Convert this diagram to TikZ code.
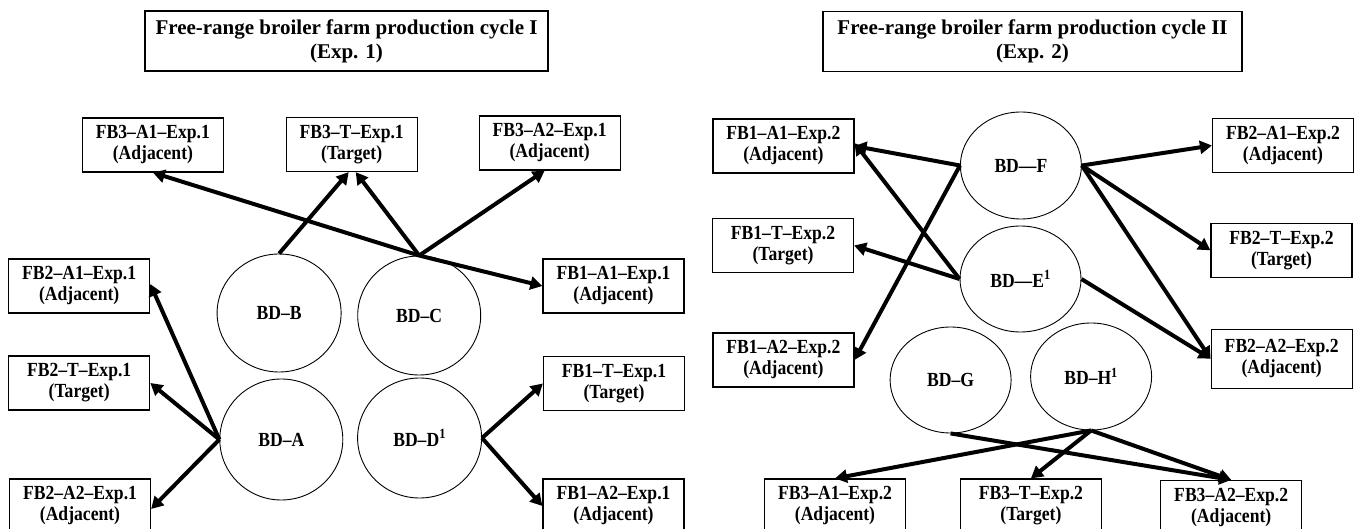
\documentclass[tikz,border=0pt]{standalone}
\usepackage{fontspec}
\setmainfont{Liberation Serif}[FakeStretch=0.88]
\newfontfamily\headfont{Liberation Serif}
\usetikzlibrary{shapes.geometric,arrows.meta}

\begin{document}
\begin{tikzpicture}[x=1pt,y=-1pt,
    font=\fontsize{20}{21}\selectfont\bfseries,
    farm/.style={draw,line width=1.2pt,minimum width=141pt,minimum height=54pt,
      inner sep=0pt,align=center},
    title/.style={draw,line width=1.2pt,minimum height=60pt,inner sep=0pt,
      align=center,font=\headfont\fontsize{21}{24}\selectfont\bfseries},
    bd/.style={draw,ellipse,line width=0.9pt,inner sep=0pt},
    flow/.style={line width=4pt,-{Triangle[length=12pt,width=13pt]}}]
  \useasboundingbox (0,0) rectangle (1358,529);

  % cycle I
  \node[title,minimum width=403pt] (titleI) at (346.5,41) {Free-range broiler farm production cycle I\\(Exp. 1)};
  \node[farm] (fb3a1x) at (152.9,145) {FB3--A1--Exp.1\\(Adjacent)};
  \node[farm,minimum width=131pt] (fb3tx) at (351.7,144.5) {FB3--T--Exp.1\\(Target)};
  \node[farm] (fb3a2x) at (549.7,143) {FB3--A2--Exp.1\\(Adjacent)};
  \node[farm] (fb2a1x) at (79.2,286) {FB2--A1--Exp.1\\(Adjacent)};
  \node[farm] (fb2tx) at (79.2,383) {FB2--T--Exp.1\\(Target)};
  \node[farm] (fb2a2x) at (80,506) {FB2--A2--Exp.1\\(Adjacent)};
  \node[farm] (fb1a1x) at (613.5,286) {FB1--A1--Exp.1\\(Adjacent)};
  \node[farm] (fb1tx) at (614,383.5) {FB1--T--Exp.1\\(Target)};
  \node[farm] (fb1a2x) at (613.5,506) {FB1--A2--Exp.1\\(Adjacent)};

  \node[bd,minimum width=124pt,minimum height=118pt] (bdb) at (279.1,313) {BD--B};
  \node[bd,minimum width=123pt,minimum height=119pt] (bdc) at (419.2,315.5) {BD--C};
  \node[bd,minimum width=123pt,minimum height=121pt] (bda) at (281.3,439.5) {BD--A};
  \node[bd,minimum width=124pt,minimum height=120pt] (bdd) at (419.6,438) {BD--D\textsuperscript{1}};

  \draw[flow] (bdb.north) -- ([xshift=-3pt]fb3tx.south);
  \draw[flow] (bdc.north) -- ([xshift=4pt]fb3tx.south);
  \draw[flow] (bdc.north) -- ([xshift=-5pt]fb3a2x.south);
  \draw[flow] (bdc.north) -- (fb3a1x.south);
  \draw[flow] (bdc.north) -- (fb1a1x.west);
  \draw[flow] (bda.west) -- ([yshift=2pt]fb2a1x.east);
  \draw[flow] (bda.west) -- (fb2tx.east);
  \draw[flow] (bda.west) -- ([yshift=-3pt]fb2a2x.east);
  \draw[flow] (bdd.east) -- (fb1tx.west);
  \draw[flow] (bdd.east) -- (fb1a2x.west);

  % cycle II
  \node[title,minimum width=419pt] (titleII) at (1032.5,41.5) {Free-range broiler farm production cycle II\\(Exp. 2)};
  \node[farm] (fb1a1y) at (783.4,146) {FB1--A1--Exp.2\\(Adjacent)};
  \node[farm] (fb1ty) at (783,245.5) {FB1--T--Exp.2\\(Target)};
  \node[farm] (fb1a2y) at (783.4,360) {FB1--A2--Exp.2\\(Adjacent)};
  \node[farm] (fb2a1y) at (1283,145.5) {FB2--A1--Exp.2\\(Adjacent)};
  \node[farm] (fb2ty) at (1281.5,250.3) {FB2--T--Exp.2\\(Target)};
  \node[farm,minimum height=59pt] (fb2a2y) at (1281.7,358.7) {FB2--A2--Exp.2\\(Adjacent)};
  \node[farm] (fb3a1y) at (835,506) {FB3--A1--Exp.2\\(Adjacent)};
  \node[farm] (fb3ty) at (1030.9,506) {FB3--T--Exp.2\\(Target)};
  \node[farm] (fb3a2y) at (1231.2,507.5) {FB3--A2--Exp.2\\(Adjacent)};

  \node[bd,minimum width=121pt,minimum height=107pt] (bdf) at (1020.9,165.5) {BD---F};
  \node[bd,minimum width=121pt,minimum height=106pt] (bde) at (1020.5,279) {BD---E\textsuperscript{1}};
  \node[bd,minimum width=121pt,minimum height=106pt] (bdg) at (950.6,380) {BD--G};
  \node[bd,minimum width=121pt,minimum height=107pt] (bdh) at (1091.1,376.5) {BD--H\textsuperscript{1}};

  \draw[flow] (bdf.west) -- (fb1a1y.east);
  \draw[flow] (bdf.west) -- (fb1a2y.east);
  \draw[flow] (bde.west) -- ([yshift=3pt]fb1a1y.east);
  \draw[flow] (bde.west) -- (fb1ty.east);
  \draw[flow] (bdf.east) -- (fb2a1y.west);
  \draw[flow] (bdf.east) -- (fb2ty.west);
  \draw[flow] (bdf.east) -- (fb2a2y.west);
  \draw[flow] (bde.east) -- (fb2a2y.west);
  \draw[flow] (bdg.south) -- (fb3a2y.north);
  \draw[flow] (bdh.south) -- (fb3a1y.north);
  \draw[flow] (bdh.south) -- (fb3ty.north);
  \draw[flow] (bdh.south) -- (fb3a2y.north);
\end{tikzpicture}
\end{document}
